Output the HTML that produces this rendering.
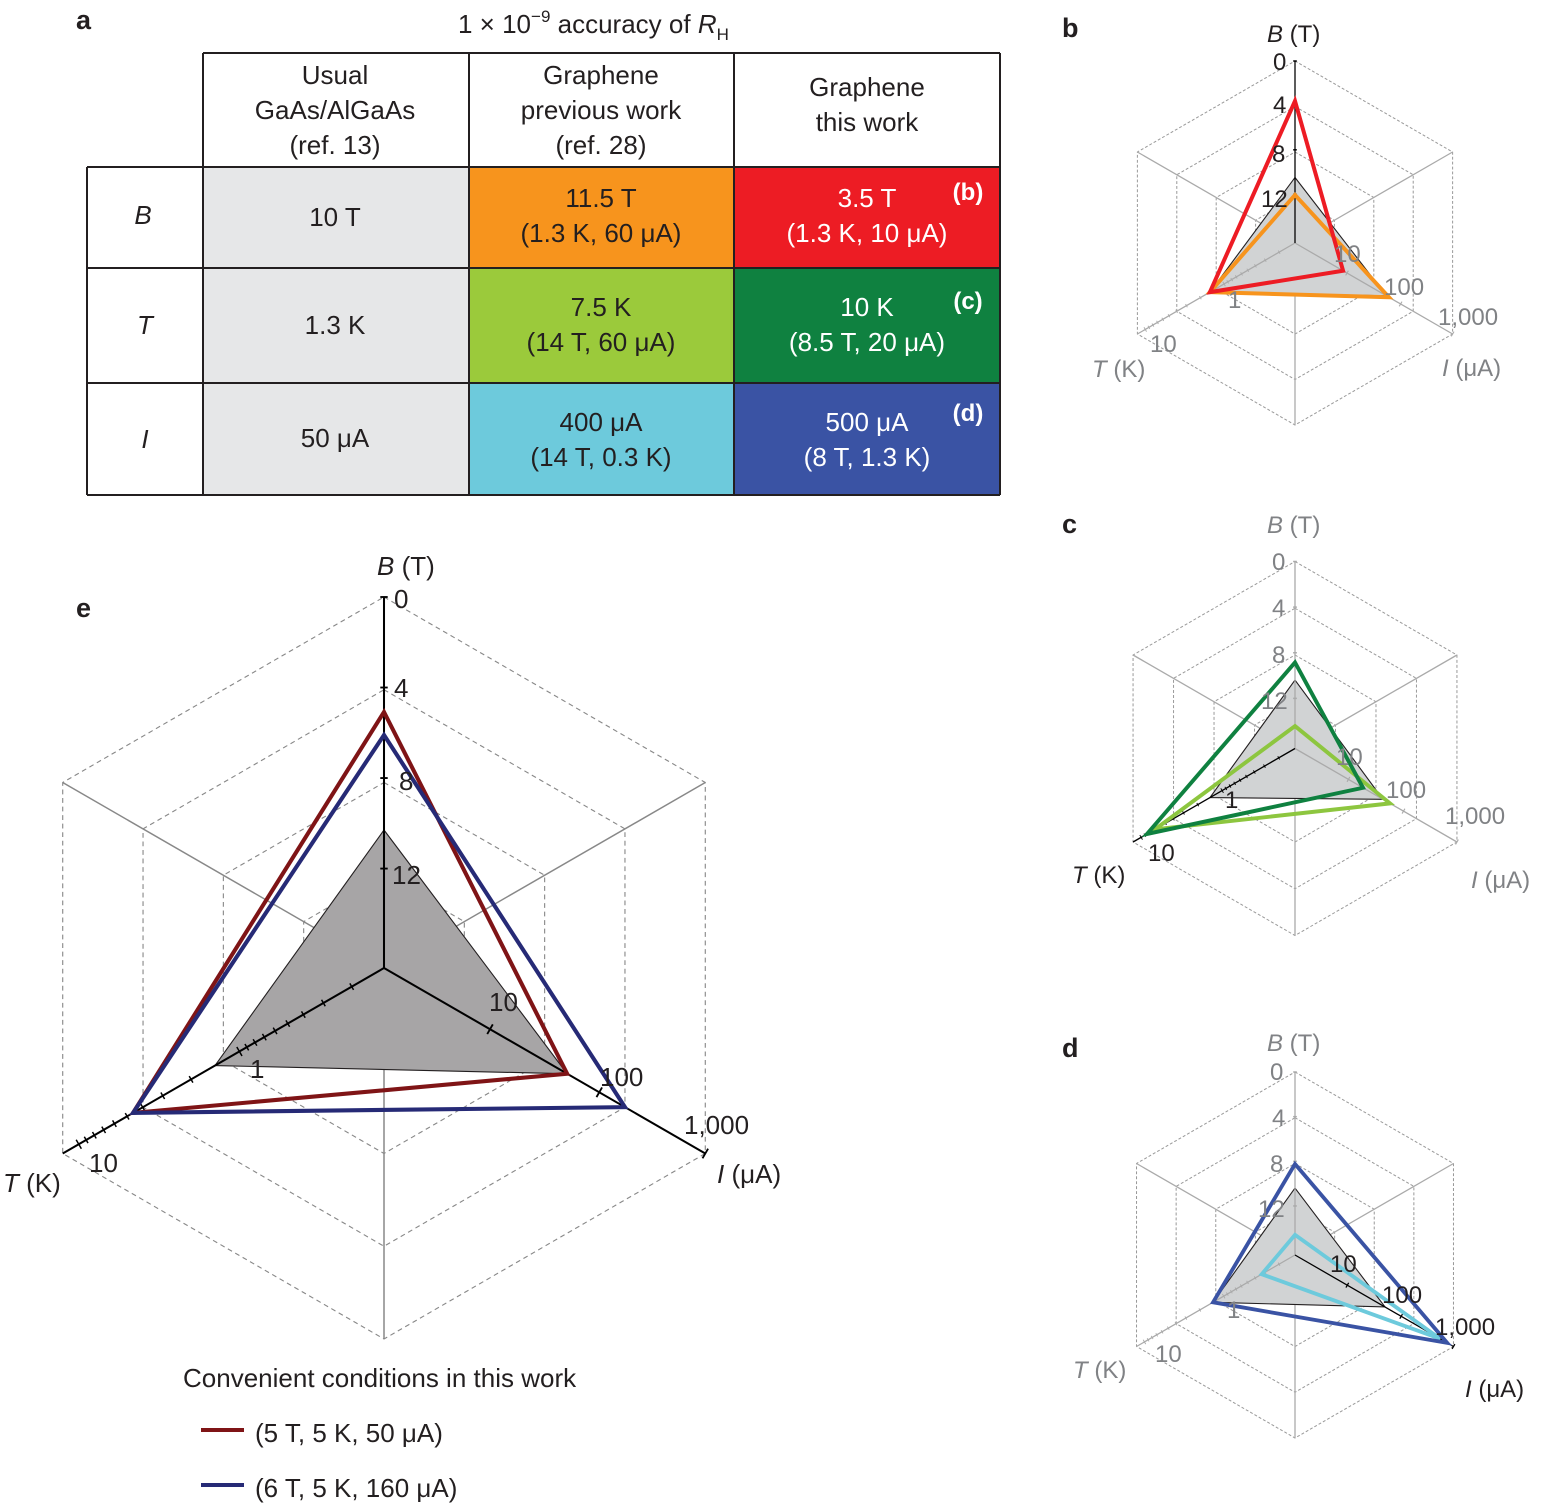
<!DOCTYPE html>
<html><head><meta charset="utf-8"><style>
html,body{margin:0;padding:0;background:#fff}
svg{display:block}
text{font-family:"Liberation Sans",sans-serif;fill:#231f20}
.g{fill:#808285}
.w{fill:#fff}
</style></head><body>
<svg width="1544" height="1508" viewBox="0 0 1544 1508" xmlns="http://www.w3.org/2000/svg">
<defs>
<g id="hex">
<polygon points="0,-100 86.6,-50 86.6,50 0,100 -86.6,50 -86.6,-50"/>
<polygon points="0,-75 64.95,-37.5 64.95,37.5 0,75 -64.95,37.5 -64.95,-37.5"/>
<polygon points="0,-50 43.3,-25 43.3,25 0,50 -43.3,25 -43.3,-25"/>
<polygon points="0,-25 21.65,-12.5 21.65,12.5 0,25 -21.65,12.5 -21.65,-12.5"/>
</g>
<g id="spk">
<line x1="0" y1="0" x2="-86.6" y2="-50"/><line x1="0" y1="0" x2="86.6" y2="-50"/><line x1="0" y1="0" x2="0" y2="100"/>
</g>
<g id="tt">
<line x1="10.05" y1="-1" x2="10.05" y2="1"/><line x1="18.86" y1="-1" x2="18.86" y2="1"/><line x1="25.1" y1="-1" x2="25.1" y2="1"/><line x1="29.95" y1="-1" x2="29.95" y2="1"/><line x1="33.9" y1="-1" x2="33.9" y2="1"/><line x1="37.25" y1="-1" x2="37.25" y2="1"/><line x1="40.15" y1="-1" x2="40.15" y2="1"/><line x1="42.7" y1="-1" x2="42.7" y2="1"/><line x1="45" y1="-1.4" x2="45" y2="1.4"/><line x1="60.05" y1="-1" x2="60.05" y2="1"/><line x1="68.86" y1="-1" x2="68.86" y2="1"/><line x1="75.1" y1="-1" x2="75.1" y2="1"/><line x1="79.95" y1="-1" x2="79.95" y2="1"/><line x1="83.9" y1="-1" x2="83.9" y2="1"/><line x1="87.25" y1="-1" x2="87.25" y2="1"/><line x1="90.15" y1="-1" x2="90.15" y2="1"/><line x1="92.7" y1="-1" x2="92.7" y2="1"/><line x1="95" y1="-1.4" x2="95" y2="1.4"/>
</g>
<g id="it">
<line x1="33" y1="-1.5" x2="33" y2="1.5"/><line x1="67" y1="-1.5" x2="67" y2="1.5"/><line x1="100" y1="-1.5" x2="100" y2="1.5"/>
</g>
<g id="bt">
<line x1="100" y1="-1" x2="100" y2="1"/><line x1="75.6" y1="-1" x2="75.6" y2="1"/><line x1="51.2" y1="-1" x2="51.2" y2="1"/><line x1="26.8" y1="-1" x2="26.8" y2="1"/>
</g>
</defs>

<!-- Panel a table -->
<text x="76" y="29" font-size="27" font-weight="bold">a</text>
<text x="458" y="33" font-size="26">1 × 10<tspan font-size="17" dy="-11">−9</tspan><tspan dy="11"> accuracy of </tspan><tspan font-style="italic">R</tspan><tspan font-size="17" dy="7">H</tspan></text>
<rect x="203" y="167" width="266" height="328" fill="#e6e7e8"/>
<rect x="469" y="167" width="265" height="101" fill="#f7941d"/>
<rect x="734" y="167" width="266" height="101" fill="#ed1c24"/>
<rect x="469" y="268" width="265" height="115" fill="#9bca3b"/>
<rect x="734" y="268" width="266" height="115" fill="#0f8140"/>
<rect x="469" y="383" width="265" height="112" fill="#6dcadc"/>
<rect x="734" y="383" width="266" height="112" fill="#3a53a4"/>
<g stroke="#231f20" stroke-width="2">
<line x1="203" y1="53" x2="1000" y2="53"/>
<line x1="87" y1="167" x2="1000" y2="167"/>
<line x1="87" y1="268" x2="1000" y2="268"/>
<line x1="87" y1="383" x2="1000" y2="383"/>
<line x1="87" y1="495" x2="1000" y2="495"/>
<line x1="87" y1="167" x2="87" y2="495"/>
<line x1="203" y1="53" x2="203" y2="495"/>
<line x1="469" y1="53" x2="469" y2="495"/>
<line x1="734" y1="53" x2="734" y2="495"/>
<line x1="1000" y1="53" x2="1000" y2="495"/>
</g>
<g font-size="26" text-anchor="middle">
<text x="335" y="84">Usual</text><text x="335" y="119">GaAs/AlGaAs</text><text x="335" y="154">(ref. 13)</text>
<text x="601" y="84">Graphene</text><text x="601" y="119">previous work</text><text x="601" y="154">(ref. 28)</text>
<text x="867" y="96">Graphene</text><text x="867" y="131">this work</text>
<text x="143" y="224" font-style="italic">B</text><text x="145" y="334" font-style="italic">T</text><text x="145" y="448" font-style="italic">I</text>
<text x="335" y="226">10 T</text><text x="335" y="334">1.3 K</text><text x="335" y="447">50 μA</text>
<text x="601" y="207">11.5 T</text><text x="601" y="242">(1.3 K, 60 μA)</text>
<text x="601" y="316">7.5 K</text><text x="601" y="351">(14 T, 60 μA)</text>
<text x="601" y="431">400 μA</text><text x="601" y="466">(14 T, 0.3 K)</text>
<text class="w" x="867" y="207">3.5 T</text><text class="w" x="867" y="242">(1.3 K, 10 μA)</text>
<text class="w" x="867" y="316">10 K</text><text class="w" x="867" y="351">(8.5 T, 20 μA)</text>
<text class="w" x="867" y="431">500 μA</text><text class="w" x="867" y="466">(8 T, 1.3 K)</text>
<text class="w" x="968" y="200" font-weight="bold" font-size="24">(b)</text>
<text class="w" x="968" y="309" font-weight="bold" font-size="24">(c)</text>
<text class="w" x="968" y="421" font-weight="bold" font-size="24">(d)</text>
</g>

<!-- Panel e -->
<text x="76" y="617" font-size="27" font-weight="bold">e</text>
<g transform="translate(384,968) scale(3.71)">
<use href="#hex" fill="none" stroke="#888" stroke-width="0.3" stroke-dasharray="1.3 1"/>
<use href="#spk" stroke="#888" stroke-width="0.4"/>
<polygon points="0,-37.2 49.36,28.5 -45.55,26.3" fill="#a7a5a6" stroke="#231f20" stroke-width="0.3"/>
<g stroke="#000" stroke-width="0.55">
<line x1="0" y1="0" x2="0" y2="-100"/>
<line x1="0" y1="0" x2="-86.6" y2="50"/>
<line x1="0" y1="0" x2="86.6" y2="50"/>
</g>
<g transform="rotate(150)"><use href="#tt" stroke="#000" stroke-width="0.4"/></g>
<g transform="rotate(30)"><use href="#it" stroke="#000" stroke-width="0.5"/></g>
<g transform="rotate(-90)"><use href="#bt" stroke="#000" stroke-width="0.5"/></g>
<polygon points="0,-69 49.36,28.5 -67.64,39.05" fill="none" stroke="#7f1416" stroke-width="1.1"/>
<polygon points="0,-62.8 64.95,37.5 -67.64,39.05" fill="none" stroke="#262a76" stroke-width="1.1"/>
</g>
<g font-size="26">
<text x="377" y="575"><tspan font-style="italic">B</tspan> (T)</text>
<text x="394" y="608">0</text><text x="394" y="697">4</text><text x="399" y="790">8</text><text x="392" y="884">12</text>
<text x="250" y="1078">1</text><text x="89" y="1172">10</text>
<text x="489" y="1011">10</text><text x="600" y="1086">100</text><text x="684" y="1134">1,000</text>
<text x="3" y="1192"><tspan font-style="italic">T</tspan> (K)</text>
<text x="717" y="1183"><tspan font-style="italic">I</tspan> (μA)</text>
<text x="183" y="1387">Convenient conditions in this work</text>
<text x="255" y="1442">(5 T, 5 K, 50 μA)</text>
<text x="255" y="1497">(6 T, 5 K, 160 μA)</text>
</g>
<line x1="201" y1="1430" x2="244" y2="1430" stroke="#7f1416" stroke-width="4"/>
<line x1="201" y1="1485" x2="244" y2="1485" stroke="#262a76" stroke-width="4"/>

<!-- Panel b -->
<text x="1062" y="37" font-size="27" font-weight="bold">b</text>
<g transform="translate(1295,243) scale(1.82)">
<use href="#hex" fill="none" stroke="#999" stroke-width="0.55" stroke-dasharray="1.6 1.1"/>
<use href="#spk" stroke="#aaa" stroke-width="0.7"/>
<polygon points="0,-36 50.23,29 -46.76,27" fill="#d1d3d4" stroke="#231f20" stroke-width="0.6"/>
<line x1="0" y1="0" x2="-86.6" y2="50" stroke="#aaa" stroke-width="0.7"/>
<line x1="0" y1="0" x2="86.6" y2="50" stroke="#aaa" stroke-width="0.7"/>
<line x1="0" y1="0" x2="0" y2="-100" stroke="#000" stroke-width="0.7"/>
<g transform="rotate(150)"><use href="#tt" stroke="#aaa" stroke-width="0.5"/></g>
<g transform="rotate(30)"><use href="#it" stroke="#aaa" stroke-width="0.6"/></g>
<g transform="rotate(-90)"><use href="#bt" stroke="#000" stroke-width="0.8"/></g>
<polygon points="0,-26.4 51.61,29.8 -46.76,27" fill="none" stroke="#f7941d" stroke-width="2.2"/>
<polygon points="0,-78 26.41,15.25 -46.76,27" fill="none" stroke="#ed1c24" stroke-width="2.2"/>
</g>
<g font-size="24">
<text x="1267" y="42"><tspan font-style="italic">B</tspan> (T)</text>
<text x="1273" y="70">0</text><text x="1273" y="113">4</text><text x="1272" y="162">8</text><text x="1261" y="207">12</text>
<text class="g" x="1228" y="308">1</text><text class="g" x="1150" y="352">10</text>
<text class="g" x="1334" y="262">10</text><text class="g" x="1384" y="295">100</text><text class="g" x="1438" y="325">1,000</text>
<text class="g" x="1092" y="377"><tspan class="g" font-style="italic">T</tspan> (K)</text>
<text class="g" x="1442" y="376"><tspan class="g" font-style="italic">I</tspan> (μA)</text>
</g>

<!-- Panel c -->
<text x="1062" y="533" font-size="27" font-weight="bold">c</text>
<g transform="translate(1295,748.5) scale(1.87)">
<use href="#hex" fill="none" stroke="#999" stroke-width="0.53" stroke-dasharray="1.6 1.1"/>
<use href="#spk" stroke="#aaa" stroke-width="0.7"/>
<polygon points="0,-36.6 47.02,27.15 -45.47,26.25" fill="#d1d3d4" stroke="#231f20" stroke-width="0.6"/>
<line x1="0" y1="0" x2="0" y2="-100" stroke="#aaa" stroke-width="0.7"/>
<line x1="0" y1="0" x2="86.6" y2="50" stroke="#aaa" stroke-width="0.7"/>
<line x1="0" y1="0" x2="-86.6" y2="50" stroke="#000" stroke-width="0.7"/>
<g transform="rotate(150)"><use href="#tt" stroke="#000" stroke-width="0.5"/></g>
<g transform="rotate(30)"><use href="#it" stroke="#aaa" stroke-width="0.6"/></g>
<g transform="rotate(-90)"><use href="#bt" stroke="#aaa" stroke-width="0.8"/></g>
<polygon points="0,-12 50.83,29.35 -74.91,43.25" fill="none" stroke="#8dc63f" stroke-width="2.1"/>
<polygon points="0,-46 36.37,21 -79.15,45.7" fill="none" stroke="#0f8140" stroke-width="2.1"/>
</g>
<g font-size="24">
<text class="g" x="1267" y="533"><tspan class="g" font-style="italic">B</tspan> (T)</text>
<text class="g" x="1272" y="570">0</text><text class="g" x="1272" y="616">4</text><text class="g" x="1272" y="663">8</text><text class="g" x="1261" y="709">12</text>
<text x="1225" y="808">1</text><text x="1148" y="861">10</text>
<text class="g" x="1336" y="765">10</text><text class="g" x="1386" y="798">100</text><text class="g" x="1445" y="824">1,000</text>
<text x="1072" y="883"><tspan font-style="italic">T</tspan> (K)</text>
<text class="g" x="1471" y="888"><tspan class="g" font-style="italic">I</tspan> (μA)</text>
</g>

<!-- Panel d -->
<text x="1062" y="1057" font-size="27" font-weight="bold">d</text>
<g transform="translate(1295,1255) scale(1.83)">
<use href="#hex" fill="none" stroke="#999" stroke-width="0.55" stroke-dasharray="1.6 1.1"/>
<use href="#spk" stroke="#aaa" stroke-width="0.7"/>
<polygon points="0,-36.6 49.19,28.4 -44.77,25.85" fill="#d1d3d4" stroke="#231f20" stroke-width="0.6"/>
<line x1="0" y1="0" x2="0" y2="-100" stroke="#aaa" stroke-width="0.7"/>
<line x1="0" y1="0" x2="-86.6" y2="50" stroke="#aaa" stroke-width="0.7"/>
<line x1="0" y1="0" x2="86.6" y2="50" stroke="#000" stroke-width="0.7"/>
<g transform="rotate(150)"><use href="#tt" stroke="#aaa" stroke-width="0.5"/></g>
<g transform="rotate(30)"><use href="#it" stroke="#000" stroke-width="0.7"/></g>
<g transform="rotate(-90)"><use href="#bt" stroke="#aaa" stroke-width="0.8"/></g>
<polygon points="0,-11 79.24,45.75 -18.19,10.5" fill="none" stroke="#6dcadc" stroke-width="2.1"/>
<polygon points="0,-49.7 83.14,48 -44.77,25.85" fill="none" stroke="#3a53a4" stroke-width="2.1"/>
</g>
<g font-size="24">
<text class="g" x="1267" y="1051"><tspan class="g" font-style="italic">B</tspan> (T)</text>
<text class="g" x="1270" y="1080">0</text><text class="g" x="1272" y="1126">4</text><text class="g" x="1270" y="1172">8</text><text class="g" x="1258" y="1217">12</text>
<text class="g" x="1227" y="1318">1</text><text class="g" x="1155" y="1362">10</text>
<text x="1330" y="1272">10</text><text x="1382" y="1303">100</text><text x="1435" y="1335">1,000</text>
<text class="g" x="1073" y="1378"><tspan class="g" font-style="italic">T</tspan> (K)</text>
<text x="1465" y="1397"><tspan font-style="italic">I</tspan> (μA)</text>
</g>
</svg>
</body></html>
